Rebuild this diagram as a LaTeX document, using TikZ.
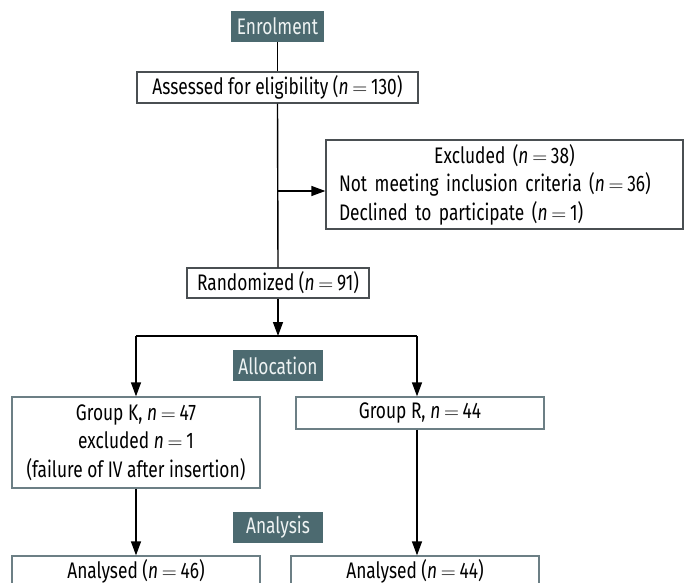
\documentclass[tikz,border=0pt]{standalone}
\usepackage{fontspec}
\setmainfont{Fira Sans}[FakeStretch=0.77]
\usetikzlibrary{arrows.meta}
\definecolor{labfill}{HTML}{4C6A70}
\definecolor{labtext}{HTML}{EEF3F3}
\definecolor{darkedge}{HTML}{4A4F52}
\definecolor{blueedge}{HTML}{6C7F85}
\newcommand\nval{\textit{n}\,$=$\,}
\tikzset{
  every node/.style={font=\fontsize{22.5}{28.5}\selectfont, inner sep=0pt},
  stagelabel/.style={fill=labfill, text=labtext, minimum width=90pt, minimum height=31pt},
  topbox/.style={draw=darkedge, line width=1.3pt, fill=white},
  lowbox/.style={draw=blueedge, line width=1.3pt, fill=white},
  conn/.style={line width=1.4pt, black},
  arr/.style={conn, -{Triangle[width=10pt,length=14pt]}}
}
\begin{document}
\begin{tikzpicture}[x=1pt,y=-1pt]
\clip (0,0) rectangle (685,583);
\node[stagelabel, minimum width=93pt] (enrol) at (277.5,26.5) {Enrolment};
\node[topbox, minimum width=281pt, minimum height=31pt] (assess) at (277.5,87.5) {Assessed for eligibility (\nval 130)};
\node[topbox, minimum width=357pt, minimum height=89pt, text width=331pt, align=left] (excl) at (504.5,184.5)
  {\makebox[\linewidth][c]{Excluded (\nval 38)}\\Not meeting inclusion criteria (\nval 36)\\Declined to participate (\nval 1)};
\node[topbox, minimum width=182pt, minimum height=30pt] (random) at (278,283) {Randomized (\nval 91)};
\node[stagelabel] (alloc) at (278,365.5) {Allocation};
\node[lowbox, minimum width=248pt, minimum height=91pt, align=center] (groupK) at (136,442.5)
  {Group K, \nval 47\\excluded \nval 1\\(failure of IV after insertion)};
\node[lowbox, minimum width=248pt, minimum height=32pt] (groupR) at (420,413) {Group R, \nval 44};
\node[stagelabel] (analysis) at (278,527.5) {Analysis};
\node[lowbox, minimum width=248pt, minimum height=30pt] (analK) at (136,571) {Analysed (\nval 46)};
\node[lowbox, minimum width=248pt, minimum height=30pt] (analR) at (415,571) {Analysed (\nval 44)};
\coordinate (exbranch) at (278,191);
\coordinate (split) at (278,336);
\coordinate (splitL) at (136,336);
\coordinate (splitR) at (417,336);
\coordinate (colR) at (417,0);
\draw[conn] (enrol.south) -- (assess.north);
\draw[conn] (assess.south) -- (random.north);
\draw[arr] (exbranch) -- (exbranch -| excl.west);
\draw[arr] (random.south) -- (split);
\draw[conn] (splitL) -- (splitR);
\draw[arr] (splitL) -- (groupK.north);
\draw[arr] (splitR) -- (splitR |- groupR.north);
\draw[arr] (groupK.south) -- (analK.north);
\draw[arr] (colR |- groupR.south) -- (colR |- analR.north);
\end{tikzpicture}
\end{document}
